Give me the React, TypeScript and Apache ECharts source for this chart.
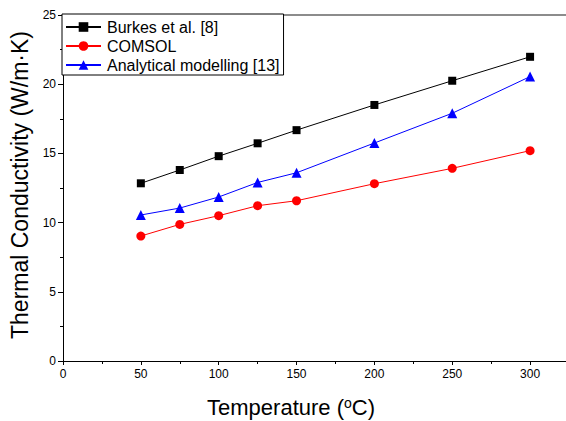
import React, { useEffect, useRef } from "react";
import * as echarts from "echarts";

const temperatures = [50, 75, 100, 125, 150, 200, 250, 300];
const burkes = [12.84, 13.8, 14.8, 15.73, 16.68, 18.5, 20.25, 21.98];
const comsol = [9.03, 9.87, 10.5, 11.22, 11.58, 12.81, 13.92, 15.2];
const analytical = [10.55, 11.05, 11.85, 12.9, 13.6, 15.75, 17.9, 20.55];

const FONT = "'Liberation Sans', Arial, sans-serif";

function pairs(values: number[]) {
  return temperatures.map((t, i) => [t, values[i]]);
}

export default function App() {
  const ref = useRef<HTMLDivElement>(null);
  useEffect(() => {
    if (!ref.current) return;
    const chart = echarts.init(ref.current, null, { renderer: "svg" });
    chart.setOption({
      animation: false,
      backgroundColor: "#fff",
      textStyle: { fontFamily: FONT },
      grid: { left: 63, top: 15, width: 506, height: 346, containLabel: false, outerBoundsMode: "none" },
      legend: {
        left: 62,
        top: 14,
        orient: "vertical",
        itemWidth: 35,
        itemHeight: 12,
        itemGap: 3,
        padding: [5, 4, 2, 3],
        backgroundColor: "#fff",
        borderColor: "#000",
        borderWidth: 1,
        borderRadius: 0,
        textStyle: { fontFamily: FONT, fontSize: 16, color: "#000", padding: [0, 0, 0, 1] },
        data: ["Burkes et al. [8]", "COMSOL", "Analytical modelling [13]"],
      },
      xAxis: [
        {
          type: "value",
          min: 0,
          max: 325,
          interval: 50,
          position: "bottom",
          name: "Temperature ({sup|o}C)",
          nameLocation: "middle",
          nameGap: 35,
          nameTextStyle: {
            fontFamily: FONT,
            fontSize: 22,
            color: "#000",
            padding: [0, 50, 0, 0],
            rich: {
              sup: { fontSize: 14, verticalAlign: "top", padding: [0, 0, 8, 0], fontFamily: FONT, color: "#000" },
            },
          },
          axisLine: { show: true, lineStyle: { color: "#000", width: 1 } },
          axisTick: { show: true, inside: false, length: 4, lineStyle: { color: "#000" } },
          minorTick: { show: true, splitNumber: 2, length: 3, lineStyle: { color: "#000" } },
          axisLabel: {
            fontFamily: FONT,
            fontSize: 12,
            color: "#000",
            margin: 7,
            formatter: (v: number) => (v > 300 ? "" : String(v)),
          },
          splitLine: { show: false },
        },
        {
          type: "value",
          min: 0,
          max: 325,
          position: "top",
          axisLine: { show: true, lineStyle: { color: "#666", width: 1.5 } },
          axisTick: { show: false },
          axisLabel: { show: false },
          splitLine: { show: false },
        },
      ],
      yAxis: {
        type: "value",
        min: 0,
        max: 25,
        interval: 5,
        name: "Thermal Conductivity (W/m·K)",
        nameLocation: "middle",
        nameGap: 30,
        nameTextStyle: { fontFamily: FONT, fontSize: 23, color: "#000", padding: [0, 0, 0, 6] },
        axisLine: { show: true, lineStyle: { color: "#000", width: 1 } },
        axisTick: { show: true, inside: false, length: 5, lineStyle: { color: "#000" } },
        minorTick: { show: true, splitNumber: 2, length: 3, lineStyle: { color: "#000" } },
        axisLabel: { fontFamily: FONT, fontSize: 12, color: "#000", margin: 7 },
        splitLine: { show: false },
      },
      series: [
        {
          name: "Burkes et al. [8]",
          type: "line",
          data: pairs(burkes),
          symbol: "rect",
          symbolSize: 8,
          color: "#000",
          lineStyle: { color: "#000", width: 1 },
          itemStyle: { color: "#000" },
        },
        {
          name: "COMSOL",
          type: "line",
          data: pairs(comsol),
          symbol: "circle",
          symbolSize: 9,
          color: "#ff0000",
          lineStyle: { color: "#ff0000", width: 1 },
          itemStyle: { color: "#ff0000" },
        },
        {
          name: "Analytical modelling [13]",
          type: "line",
          data: pairs(analytical),
          symbol: "triangle",
          symbolSize: 10,
          color: "#0000ff",
          lineStyle: { color: "#0000ff", width: 1 },
          itemStyle: { color: "#0000ff" },
        },
      ],
    });
    return () => chart.dispose();
  }, []);
  return <div ref={ref} style={{ width: 566, height: 421, position: "absolute", left: 0, top: 0 }} />;
}
